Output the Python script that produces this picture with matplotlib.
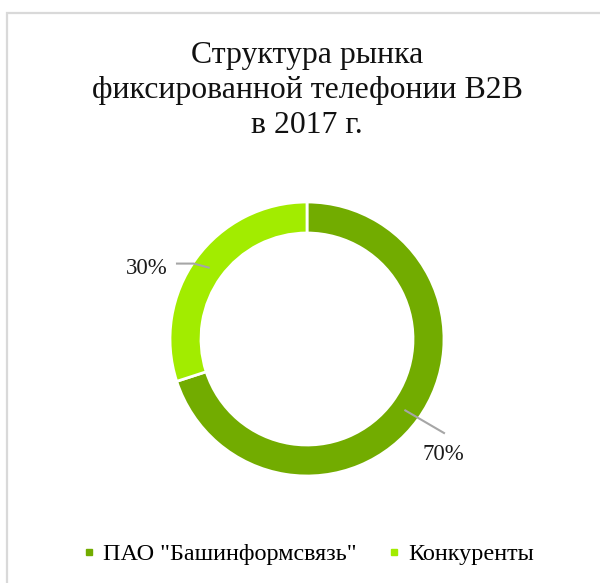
import matplotlib
matplotlib.use("Agg")
import matplotlib.pyplot as plt
from matplotlib.lines import Line2D
from matplotlib.patches import Rectangle
import numpy as np

plt.rcParams['font.family'] = ['Liberation Serif', 'DejaVu Serif']

title = "Структура рынка\nфиксированной телефонии B2B\nв 2017 г."
labels = ['ПАО "Башинформсвязь"', 'Конкуренты']
shares = [70, 30]
colors = ['#72AC00', '#A2EC00']

# label text positions (data units, 1 unit = 100 px)
label_pos = [(1.36, -1.16), (-1.60, 0.71)]

W, H = 600, 583
cx, cy = 307, 339          # donut centre in pixels (from top-left)
fig = plt.figure(figsize=(W / 100, H / 100), dpi=100)
fig.patch.set_facecolor('white')

# chart border (cropped on right/bottom in original)
fig.patches.append(Rectangle((7 / W, -0.1), 1.2, (H - 13) / H + 0.1,
                             transform=fig.transFigure, fill=False,
                             edgecolor='#D9D9D9', linewidth=1.6))

ax = fig.add_axes([0, 0, 1, 1])

wedges, _ = ax.pie(shares, colors=colors, radius=1.37, startangle=90,
                   counterclock=False,
                   wedgeprops=dict(width=0.31, edgecolor='white', linewidth=2))
ax.set_xlim(-cx / 100, (W - cx) / 100)
ax.set_ylim(-(H - cy) / 100, cy / 100)
ax.set_aspect('equal')
ax.axis('off')

for w, s, (lx, ly) in zip(wedges, shares, label_pos):
    mid = np.deg2rad((w.theta1 + w.theta2) / 2)
    r = 1.37 - 0.155
    px, py = r * np.cos(mid), r * np.sin(mid)
    if lx > 0:
        ax.plot([px, lx + 0.01], [py, ly + 0.22], color='#A6A6A6', lw=1.5)
    else:
        ax.plot([px, px - 0.15, lx + 0.30], [py, py + 0.04, py + 0.04],
                color='#A6A6A6', lw=1.5)
    ax.text(lx, ly, f"{s}%", ha='center', va='center', fontsize=16.5,
            color='#1a1a1a')

fig.text(307 / W, 1 - 41 / H, title, ha='center', va='top', fontsize=22.9,
         linespacing=1.27, color='#111111')

handles = [Line2D([], [], marker='s', linestyle='', color=c, markersize=4.8)
           for c in colors]
fig.legend(handles, labels, loc='center', bbox_to_anchor=(0.515, 1 - 554 / H),
           ncol=2, frameon=False, fontsize=17.4, handlelength=0.4,
           handletextpad=0.4, columnspacing=1.35)

fig.savefig('out.png', dpi=100, facecolor='white')
